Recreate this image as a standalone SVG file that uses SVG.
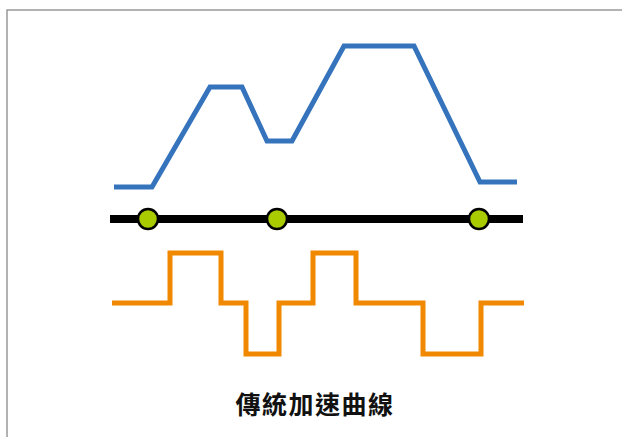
<svg xmlns="http://www.w3.org/2000/svg" width="622" height="437" viewBox="0 0 622 437">
<style>
.curve{fill:none;stroke-linejoin:miter;stroke-linecap:butt}
.dot{fill:#a8cc00;stroke:#000;stroke-width:2.5}
.lbl{font-family:"Noto Sans CJK TC","Noto Sans CJK SC",sans-serif;font-weight:bold;font-size:25px;letter-spacing:1.5px;fill:#111}
</style>
<rect x="0" y="0" width="622" height="437" fill="#fff"/>
<path d="M7,440 V10 H625" fill="none" stroke="#999" stroke-width="1.5"/>
<g id="connectors">
<polyline id="velocity" class="curve" stroke="#3574bc" stroke-width="5" points="114,187 152,187 210,87 242,87 267,141 292,141 344,46 414,46 480,182 517,182"/>
<line id="axis" x1="110" y1="219" x2="523" y2="219" stroke="#000" stroke-width="8"/>
<polyline id="accel" class="curve" stroke="#f08800" stroke-width="5" points="112,303 170,303 170,253 221,253 221,303 246,303 246,354 279,354 279,303 313,303 313,253 356,253 356,303 423,303 423,354 481,354 481,303 524,303"/>
</g>
<g id="node1"><circle class="dot" cx="148" cy="219" r="10"/></g>
<g id="node2"><circle class="dot" cx="277" cy="219" r="10"/></g>
<g id="node3"><circle class="dot" cx="479" cy="219" r="10"/></g>
<g id="title"><text class="lbl" x="315" y="414" text-anchor="middle">傳統加速曲線</text></g>
</svg>
